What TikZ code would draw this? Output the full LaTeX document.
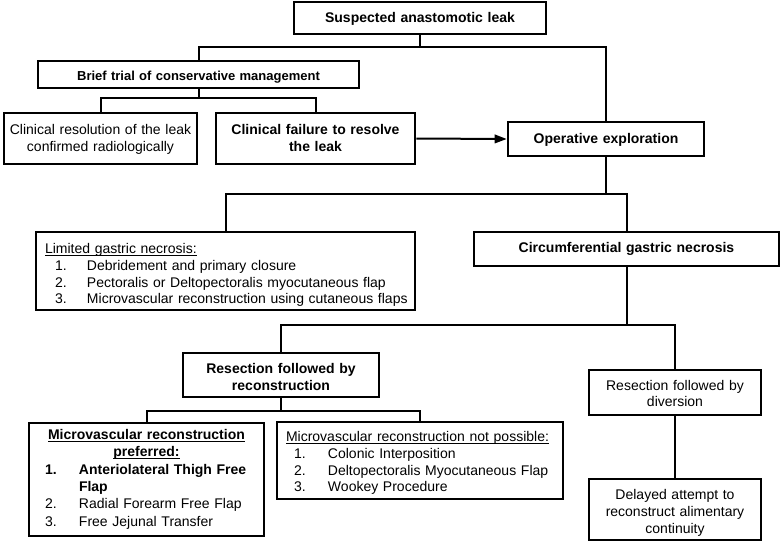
\documentclass[tikz,border=0pt]{standalone}
\usepackage{fontspec}
\setmainfont{Liberation Sans}
\usetikzlibrary{arrows.meta}
\newcommand\myul[1]{\setbox0\hbox{#1}\rlap{\rule[-2.2pt]{\wd0}{0.8pt}}\box0}
\newcommand\numit[2]{\makebox[#1][l]{#2}}
\begin{document}
\begin{tikzpicture}[x=1pt,y=-1pt,
  box/.style={draw,line width=2.6pt,rectangle,inner sep=0pt},
  txt/.style={inner sep=0pt,anchor=base,align=center,font=\fontsize{14}{17}\selectfont},
  btxt/.style={txt,font=\fontsize{14}{17}\selectfont\bfseries},
  conn/.style={line width=2pt},
  arr/.style={line width=2pt,-{Triangle[length=12pt,width=8.5pt]}}
 ]
\useasboundingbox (0,0) rectangle (781,544);

% boxes
\node[box,minimum width=252pt,minimum height=32pt] (B1) at (420,18) {};
\node[box,minimum width=321pt,minimum height=27pt] (B2) at (198.5,74.5) {};
\node[box,minimum width=193pt,minimum height=51pt] (B3) at (100.5,138.5) {};
\node[box,minimum width=199pt,minimum height=51pt] (B4) at (315.5,138.5) {};
\node[box,minimum width=196pt,minimum height=34pt] (B5) at (606,139) {};
\node[box,minimum width=379pt,minimum height=78pt] (B6) at (225.5,271) {};
\node[box,minimum width=305pt,minimum height=34pt] (B7) at (626.5,249) {};
\node[box,minimum width=196pt,minimum height=44pt] (B8) at (281,375) {};
\node[box,minimum width=235pt,minimum height=113pt] (B9) at (146.5,479.5) {};
\node[box,minimum width=286pt,minimum height=77pt] (B10) at (420,460.5) {};
\node[box,minimum width=172pt,minimum height=45pt] (B11) at (675,392.5) {};
\node[box,minimum width=172pt,minimum height=61pt] (B12) at (675,509.5) {};

% texts
\node[btxt,text width=240pt] (T1) at (420,22.6) {Suspected anastomotic leak};
\node[txt,text width=300pt,font=\fontsize{13}{16}\selectfont\bfseries] (T2) at (198.5,80) {Brief trial of conservative management};
\node[txt,text width=190pt] (T3) at (100.5,134.6) {Clinical resolution of the leak\\confirmed radiologically};
\node[btxt,text width=190pt] (T4) at (315.5,134.6) {Clinical failure to resolve\\the leak};
\node[btxt,text width=190pt] (T5) at (606,143.6) {Operative exploration};
\node[txt,align=left,text width=361pt,font=\fontsize{14}{16.6}\selectfont] (T6) at (225.5,253.9)
 {\mbox{\myul{Limited gastric necrosis:}}\\
  \mbox{\hspace*{10pt}\numit{32pt}{1.}Debridement and primary closure}\\
  \mbox{\hspace*{10pt}\numit{32pt}{2.}Pectoralis or Deltopectoralis myocutaneous flap}\\
  \mbox{\hspace*{10pt}\numit{32pt}{3.}Microvascular reconstruction using cutaneous flaps}};
\node[btxt,text width=290pt] (T7) at (626.5,252.6) {Circumferential gastric necrosis};
\node[btxt,text width=190pt] (T8) at (281,373.6) {Resection followed by\\reconstruction};
\node[txt,text width=168pt,font=\fontsize{14}{16.5}\selectfont] (T11) at (675,390.3) {Resection followed by\\diversion};
\node[txt,text width=168pt,font=\fontsize{14}{16.7}\selectfont] (T12) at (675,499.6) {Delayed attempt to\\reconstruct alimentary\\continuity};
\node[txt,align=left,text width=203pt,font=\fontsize{14}{17.3}\selectfont] (T9) at (146.5,439.6)
 {\makebox[203pt][c]{\bfseries\myul{Microvascular reconstruction}}\\
  \makebox[203pt][c]{\bfseries\myul{preferred:}}\\
  \mbox{\bfseries\numit{34pt}{1.}Anteriolateral Thigh Free}\\
  \mbox{\bfseries\hspace*{34pt}Flap}\\
  \mbox{\numit{34pt}{2.}Radial Forearm Free Flap}\\
  \mbox{\numit{34pt}{3.}Free Jejunal Transfer}};
\node[txt,align=left,text width=268pt,font=\fontsize{14}{16.7}\selectfont] (T10) at (420,441.6)
 {\mbox{\myul{Microvascular reconstruction not possible:}}\\
  \mbox{\hspace*{8pt}\numit{34pt}{1.}Colonic Interposition}\\
  \mbox{\hspace*{8pt}\numit{34pt}{2.}Deltopectoralis Myocutaneous Flap}\\
  \mbox{\hspace*{8pt}\numit{34pt}{3.}Wookey Procedure}};

% connectors
\coordinate (j1) at (420,47);
\coordinate (j2) at (198.5,98);
\coordinate (j3) at (606,194);
\coordinate (j4) at (626.5,325);
\coordinate (j5) at (281,411);

\draw[conn] (B1.south) -- (j1) -| (B2.north);
\draw[conn] (j1) -| (B5.north);
\draw[conn] (B2.south) -- (j2) -| (B3.north);
\draw[conn] (j2) -| (B4.north);
\draw[arr] (B4.east) -- (B5.west);
\draw[conn] (B5.south) -- (j3) -| (B6.north);
\draw[conn] (j3) -| (B7.north);
\draw[conn] (B7.south) -- (j4) -| (B8.north);
\draw[conn] (j4) -| (B11.north);
\draw[conn] (B8.south) -- (j5) -| (B9.north);
\draw[conn] (j5) -| (B10.north);
\draw[conn] (B11.south) -- (B12.north);
\end{tikzpicture}
\end{document}
